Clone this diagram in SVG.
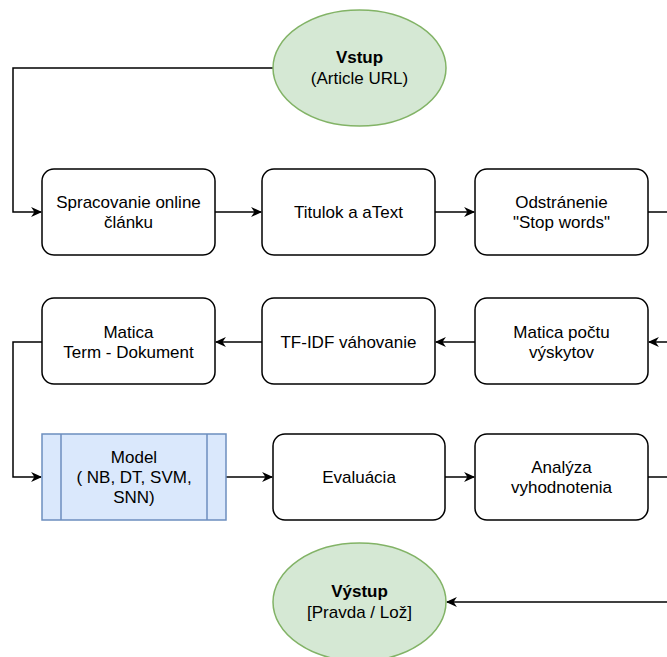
<svg xmlns="http://www.w3.org/2000/svg" width="667" height="657" viewBox="0 0 667 657">
<defs>
<style>
.box{fill:#ffffff;stroke:#000000;stroke-width:1.5}
.ell{fill:#d5e8d4;stroke:#82b366;stroke-width:1.5}
.blue{fill:#dae8fc;stroke:#6c8ebf;stroke-width:1.5}
.t{font-family:"Liberation Sans",Arial,sans-serif;font-size:17px;fill:#000;text-anchor:middle}
.b{font-weight:bold}
.c{fill:none;stroke:#000;stroke-width:1.5}
</style>
<marker id="ah" viewBox="0 0 10 10" refX="9" refY="5" markerWidth="12" markerHeight="11" markerUnits="userSpaceOnUse" orient="auto">
<path d="M0,0.5 L10,5 L0,9.5 L3,5 Z" fill="#000"/>
</marker>
</defs>
<rect width="667" height="657" fill="#ffffff"/>
<g id="connectors">
<path class="c" d="M273,68 H13 V212 H41" marker-end="url(#ah)"/>
<path class="c" d="M215,212 H261" marker-end="url(#ah)"/>
<path class="c" d="M435,212 H474" marker-end="url(#ah)"/>
<path class="c" d="M648,212 H667"/>
<path class="c" d="M667,342 H649" marker-end="url(#ah)"/>
<path class="c" d="M475,342 H436" marker-end="url(#ah)"/>
<path class="c" d="M262,342 H216" marker-end="url(#ah)"/>
<path class="c" d="M42,342 H13 V477 H41" marker-end="url(#ah)"/>
<path class="c" d="M226,477 H272" marker-end="url(#ah)"/>
<path class="c" d="M445,477 H474" marker-end="url(#ah)"/>
<path class="c" d="M648,477 H667"/>
<path class="c" d="M667,602 H447" marker-end="url(#ah)"/>
</g>
<g id="vstup">
<ellipse class="ell" cx="359.5" cy="68" rx="86.5" ry="58"/>
<text class="t b" x="359.5" y="63">Vstup</text>
<text class="t" x="359.5" y="84">(Article URL)</text>
</g>
<g id="spracovanie">
<rect class="box" x="42" y="169" width="173" height="86" rx="12"/>
<text class="t" x="128.5" y="208">Spracovanie online</text>
<text class="t" x="128.5" y="228">článku</text>
</g>
<g id="titulok">
<rect class="box" x="262" y="169" width="173" height="86" rx="12"/>
<text class="t" x="348.5" y="218">Titulok a aText</text>
</g>
<g id="stopwords">
<rect class="box" x="475" y="169" width="173" height="86" rx="12"/>
<text class="t" x="561.5" y="208">Odstránenie</text>
<text class="t" x="561.5" y="228">"Stop words"</text>
</g>
<g id="matica-term">
<rect class="box" x="42" y="298" width="173" height="86" rx="12"/>
<text class="t" x="128.5" y="338">Matica</text>
<text class="t" x="128.5" y="358">Term - Dokument</text>
</g>
<g id="tfidf">
<rect class="box" x="262" y="298" width="173" height="86" rx="12"/>
<text class="t" x="348.5" y="348">TF-IDF váhovanie</text>
</g>
<g id="matica-poctu">
<rect class="box" x="475" y="298" width="173" height="86" rx="12"/>
<text class="t" x="561.5" y="338">Matica počtu</text>
<text class="t" x="561.5" y="358">výskytov</text>
</g>
<g id="model">
<rect class="blue" x="42" y="434" width="184" height="86"/>
<line class="blue" x1="61" y1="434" x2="61" y2="520"/>
<line class="blue" x1="207" y1="434" x2="207" y2="520"/>
<text class="t" x="134" y="463">Model</text>
<text class="t" x="134" y="483">( NB, DT, SVM,</text>
<text class="t" x="134" y="503">SNN)</text>
</g>
<g id="evaluacia">
<rect class="box" x="273" y="434" width="172" height="86" rx="12"/>
<text class="t" x="359" y="483">Evaluácia</text>
</g>
<g id="analyza">
<rect class="box" x="475" y="434" width="173" height="86" rx="12"/>
<text class="t" x="561.5" y="473">Analýza</text>
<text class="t" x="561.5" y="493">vyhodnotenia</text>
</g>
<g id="vystup">
<ellipse class="ell" cx="359.5" cy="602" rx="86.5" ry="59"/>
<text class="t b" x="359.5" y="597">Výstup</text>
<text class="t" x="359.5" y="618">[Pravda / Lož]</text>
</g>
</svg>
